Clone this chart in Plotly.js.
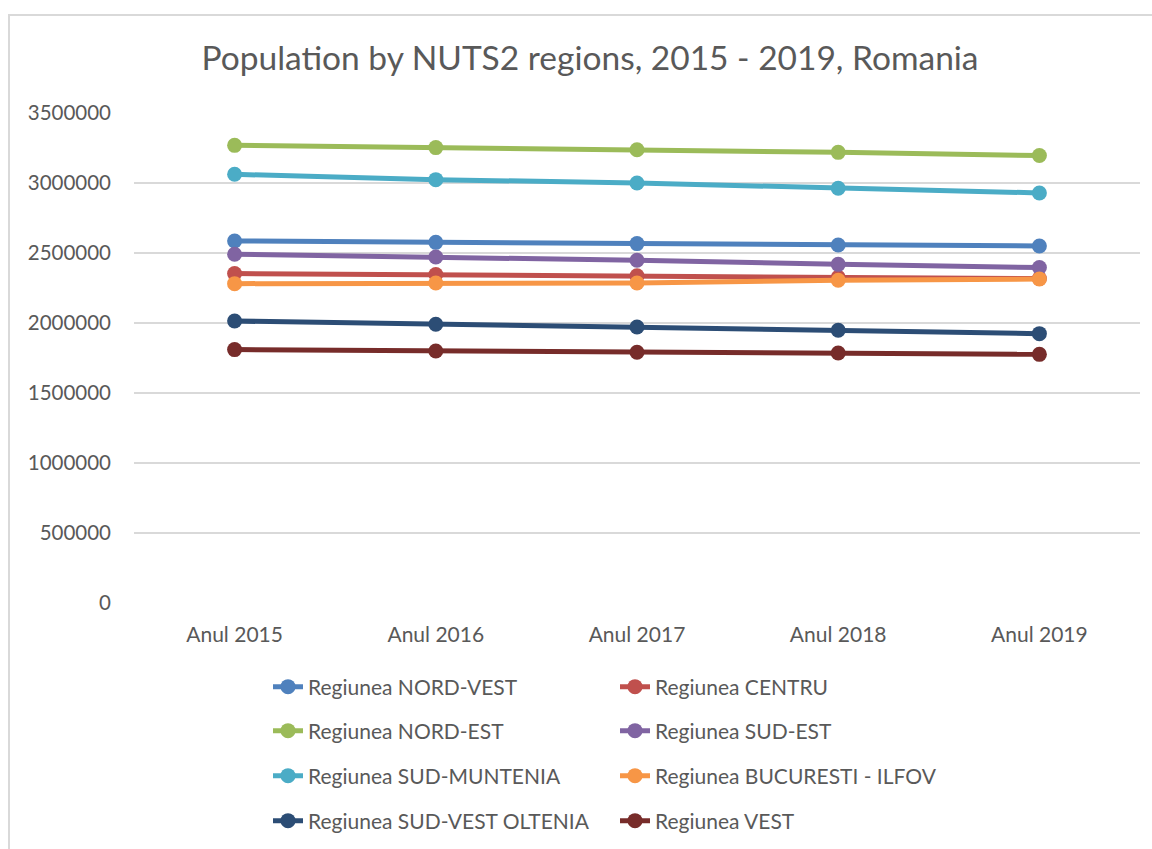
<!DOCTYPE html>
<html>
<head>
<meta charset="utf-8">
<script src="https://cdn.plot.ly/plotly-3.0.1.min.js"></script>
<style>
  html, body { margin: 0; padding: 0; background: #ffffff; overflow: hidden; }
  #frame { position: absolute; left: 8px; top: 14px; width: 1200px; height: 900px; border: 2px solid #d9d9d9; box-sizing: border-box; }
  #chart { position: absolute; left: 0; top: 0; width: 1152px; height: 849px; }
</style>
</head>
<body>
<div id="frame"></div>
<div id="chart"></div>
<script>
const categories = ["Anul 2015", "Anul 2016", "Anul 2017", "Anul 2018", "Anul 2019"];

const seriesNames = [
  "Regiunea NORD-VEST",
  "Regiunea CENTRU",
  "Regiunea NORD-EST",
  "Regiunea SUD-EST",
  "Regiunea SUD-MUNTENIA",
  "Regiunea BUCURESTI - ILFOV",
  "Regiunea SUD-VEST OLTENIA",
  "Regiunea VEST"
];

const nordVest        = [2586000, 2576000, 2567000, 2557000, 2550000];
const centru          = [2353000, 2346000, 2337000, 2327000, 2317000];
const nordEst         = [3269000, 3253000, 3238000, 3219000, 3196000];
const sudEst          = [2491000, 2471000, 2448000, 2419000, 2396000];
const sudMuntenia     = [3062000, 3024000, 3000000, 2962000, 2929000];
const bucurestiIlfov  = [2281000, 2286000, 2286000, 2305000, 2314000];
const sudVestOltenia  = [2014000, 1991000, 1971000, 1948000, 1924000];
const vest            = [1810000, 1800000, 1791000, 1786000, 1776000];

const seriesValues = [nordVest, centru, nordEst, sudEst, sudMuntenia, bucurestiIlfov, sudVestOltenia, vest];
const seriesColors = ["#4f81bd", "#c0504d", "#9bbb59", "#8064a2", "#4bacc6", "#f79646", "#2c4d75", "#772c2a"];
const legendIds = ["legend", "legend", "legend2", "legend2", "legend3", "legend3", "legend4", "legend4"];

const traces = seriesNames.map((name, i) => ({
  type: "scatter",
  mode: "lines+markers",
  name: name,
  x: categories,
  y: seriesValues[i],
  line: { color: seriesColors[i], width: 5 },
  marker: { color: seriesColors[i], size: 15 },
  legend: legendIds[i]
}));

const textColor = "#595959";
const fontFam = "Lato, 'Open Sans', sans-serif";

function legendAt(yPos) {
  return {
    orientation: "h",
    x: 268 / 1152,
    xref: "container",
    xanchor: "left",
    y: yPos,
    yref: "container",
    yanchor: "middle",
    entrywidth: 302,
    entrywidthmode: "pixels",
    font: { family: fontFam, size: 21, color: textColor },
    bgcolor: "rgba(0,0,0,0)",
    itemclick: false,
    itemdoubleclick: false
  };
}

const layout = {
  width: 1152,
  height: 849,
  paper_bgcolor: "rgba(0,0,0,0)",
  plot_bgcolor: "rgba(0,0,0,0)",
  margin: { l: 133.5, r: 12, t: 112.7, b: 246.3, pad: 0 },
  title: {
    text: "Population by NUTS2 regions, 2015 - 2019, Romania",
    font: { family: fontFam, size: 33.5, color: textColor },
    x: 590 / 1152,
    xref: "container",
    xanchor: "center",
    y: 1 - 58 / 849,
    yref: "container",
    yanchor: "middle"
  },
  xaxis: {
    type: "category",
    range: [-0.5, 4.5],
    showgrid: false,
    zeroline: false,
    showline: false,
    ticks: "",
    ticklabelstandoff: 17,
    tickfont: { family: fontFam, size: 21, color: textColor },
    fixedrange: true
  },
  yaxis: {
    range: [0, 3500000],
    dtick: 500000,
    tick0: 0,
    tickformat: "d",
    showgrid: true,
    gridcolor: "#d9d9d9",
    gridwidth: 1.5,
    zeroline: false,
    showline: false,
    ticks: "",
    ticklabelstandoff: 22,
    tickfont: { family: fontFam, size: 20.5, color: textColor },
    fixedrange: true
  },
  legend: legendAt(1 - 687 / 849),
  legend2: legendAt(1 - 731 / 849),
  legend3: legendAt(1 - 776 / 849),
  legend4: legendAt(1 - 821 / 849),
  showlegend: true,
  hovermode: false
};

Plotly.newPlot("chart", traces, layout, { displayModeBar: false, staticPlot: true });
</script>
</body>
</html>
